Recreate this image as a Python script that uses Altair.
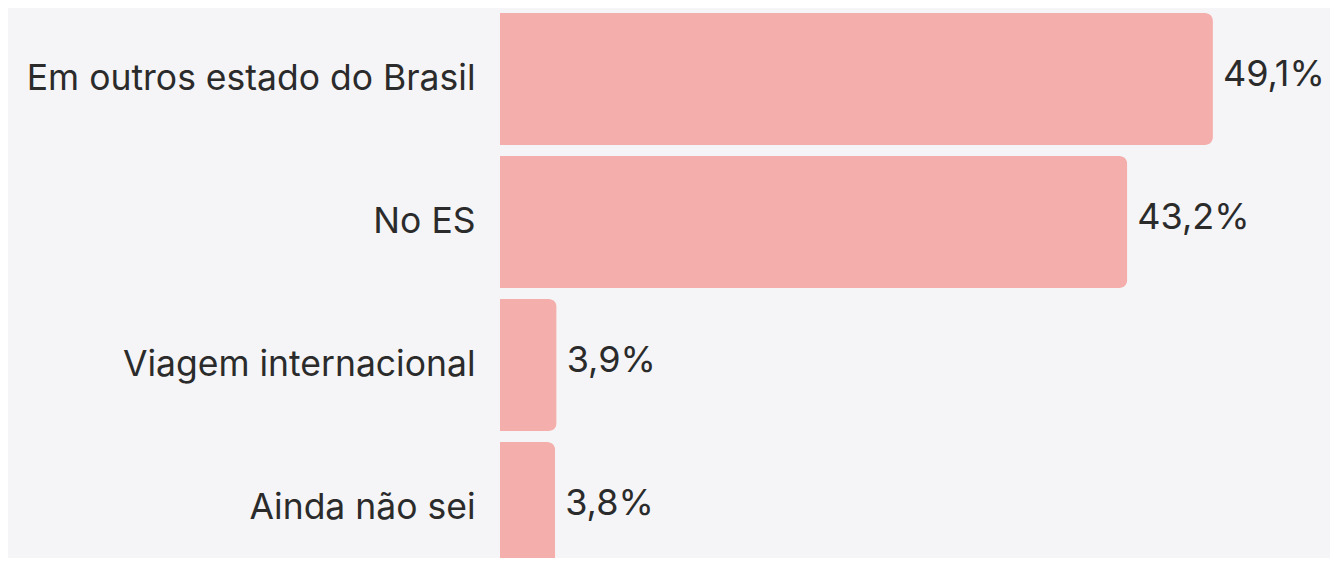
import altair as alt
import pandas as pd

categories = ["Em outros estado do Brasil", "No ES", "Viagem internacional", "Ainda não sei"]
values = [49.1, 43.2, 3.9, 3.8]
labels = ["49,1%", "43,2%", "3,9%", "3,8%"]

df = pd.DataFrame({"cat": categories, "val": values, "lab": labels})

FONT = "Inter"
TXT = "#2b2b2b"

y = alt.Y(
    "cat:N",
    sort=categories,
    scale=alt.Scale(range=[-0.5, 571.5], paddingInner=11 / 143, paddingOuter=5.5 / 143),
    axis=alt.Axis(
        title=None, domain=False, ticks=False, labelPadding=25,
        labelFont=FONT, labelFontSize=35.5, labelColor=TXT,
        labelBaseline="alphabetic", labelOffset=11, labelLimit=600,
    ),
)
x = alt.X("val:Q", scale=alt.Scale(domain=[0, 50], nice=False), axis=None)

bars = alt.Chart(df).mark_bar(color="#f4afac", cornerRadiusEnd=8).encode(x=x, y=y)
text = alt.Chart(df).mark_text(
    align="left", baseline="alphabetic", dx=10, dy=7, font=FONT, fontSize=36, color=TXT,
).encode(x=x, y=y, text="lab:N")

chart = (
    (bars + text)
    .properties(
        width=726, height=550,
        autosize=alt.AutoSizeParams(type="none"),
        padding={"left": 492, "top": 0, "right": 104, "bottom": 0},
        background="#f5f5f7",
    )
    .configure_view(stroke=None)
)

chart.save("out.html", embed_options={"renderer": "svg", "actions": False})
